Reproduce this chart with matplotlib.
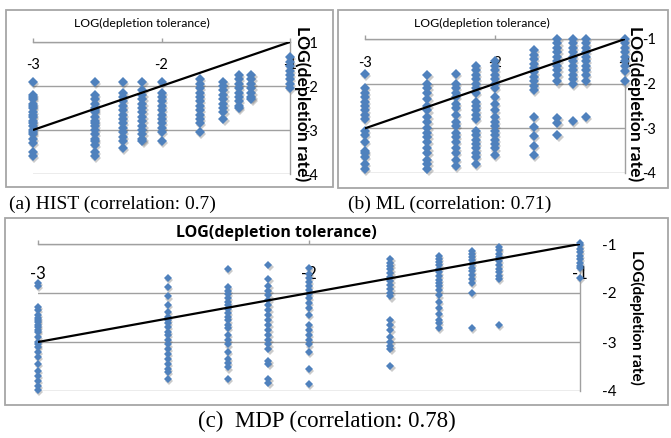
import matplotlib
matplotlib.use('Agg')
import matplotlib.pyplot as plt
import matplotlib.transforms as mtransforms
from matplotlib.patches import Rectangle
from matplotlib import font_manager

plt.rcParams['font.family'] = ['Lato', 'DejaVu Sans']

# log10 of depletion tolerance for each column of points
tol_log = [-3.0, -2.52, -2.3, -2.15, -2.0, -1.7, -1.52, -1.4, -1.3, -1.0]

# log10 of depletion rate, one list per column
hist_rates = [
    [-1.9, -2.2, -2.25, -2.3, -2.4, -2.45, -2.5, -2.6, -2.65, -2.7, -2.8, -2.85, -2.9, -3.0, -3.05, -3.1, -3.2, -3.3, -3.5, -3.6],
    [-1.9, -2.2, -2.3, -2.4, -2.5, -2.55, -2.6, -2.7, -2.8, -2.85, -2.9, -3.0, -3.1, -3.2, -3.25, -3.35, -3.5, -3.6],
    [-1.9, -2.15, -2.25, -2.35, -2.45, -2.55, -2.65, -2.75, -2.85, -2.95, -3.05, -3.15, -3.25, -3.4],
    [-1.9, -2.1, -2.2, -2.3, -2.4, -2.5, -2.6, -2.7, -2.8, -2.9, -3.0, -3.1, -3.2, -3.25],
    [-1.9, -2.15, -2.25, -2.35, -2.45, -2.55, -2.65, -2.75, -2.85, -2.95, -3.05, -3.25],
    [-1.85, -1.95, -2.05, -2.15, -2.25, -2.35, -2.45, -2.55, -2.65, -2.75, -2.85, -3.05],
    [-1.9, -2.0, -2.1, -2.2, -2.3, -2.4, -2.5, -2.6, -2.75],
    [-1.75, -1.85, -1.95, -2.05, -2.15, -2.25, -2.35, -2.45, -2.5],
    [-1.75, -1.85, -1.95, -2.05, -2.15, -2.25, -2.3],
    [-1.35, -1.45, -1.55, -1.65, -1.75, -1.85, -1.95, -2.05],
]
ml_rates = [
    [-1.78, -2.1, -2.2, -2.3, -2.4, -2.5, -2.6, -2.7, -2.8, -3.05, -3.15, -3.3, -3.5, -3.55, -3.65, -3.8, -3.9],
    [-1.8, -2.0, -2.1, -2.2, -2.35, -2.5, -2.6, -2.75, -2.85, -3.0, -3.1, -3.2, -3.3, -3.45, -3.55, -3.7, -3.8, -3.9],
    [-1.78, -2.0, -2.1, -2.2, -2.3, -2.45, -2.55, -2.7, -2.85, -2.95, -3.1, -3.2, -3.3, -3.45, -3.55, -3.7, -3.85],
    [-1.6, -1.7, -1.8, -1.9, -2.0, -2.1, -2.2, -2.4, -2.5, -2.6, -2.7, -2.8, -3.05, -3.15, -3.25, -3.35, -3.45, -3.55, -3.65, -3.8],
    [-1.5, -1.6, -1.7, -1.8, -1.9, -2.0, -2.1, -2.3, -2.45, -2.6, -2.75, -2.85, -2.95, -3.05, -3.15, -3.25, -3.35, -3.45, -3.6],
    [-1.25, -1.35, -1.45, -1.55, -1.65, -1.75, -1.85, -1.95, -2.05, -2.15, -2.75, -2.98, -3.18, -3.4, -3.59],
    [-1.0, -1.1, -1.2, -1.3, -1.4, -1.5, -1.6, -1.7, -1.8, -1.95, -2.77, -2.88, -3.14],
    [-1.0, -1.1, -1.2, -1.3, -1.4, -1.5, -1.6, -1.7, -1.8, -1.9, -2.0, -2.84],
    [-1.0, -1.1, -1.2, -1.3, -1.4, -1.5, -1.6, -1.7, -1.8, -1.95, -2.75],
    [-1.0, -1.1, -1.2, -1.3, -1.4, -1.5, -1.6, -1.72, -1.95],
]
mdp_rates = [
    [-1.8, -1.86, -2.28, -2.35, -2.45, -2.5, -2.55, -2.6, -2.65, -2.7, -2.75, -2.8, -2.9, -3.0, -3.05, -3.1, -3.2, -3.3, -3.45, -3.6, -3.7, -3.8, -3.9, -3.97],
    [-1.69, -1.88, -2.07, -2.24, -2.38, -2.48, -2.55, -2.62, -2.7, -2.79, -2.86, -2.95, -3.05, -3.15, -3.25, -3.35, -3.45, -3.55, -3.62, -3.76],
    [-1.5, -1.88, -1.95, -2.02, -2.1, -2.18, -2.25, -2.32, -2.4, -2.48, -2.56, -2.66, -2.72, -2.85, -2.95, -3.05, -3.2, -3.35, -3.42, -3.52, -3.76],
    [-1.43, -1.72, -1.86, -1.95, -2.05, -2.15, -2.25, -2.35, -2.45, -2.55, -2.65, -2.75, -2.85, -2.95, -3.05, -3.14, -3.38, -3.45, -3.76, -3.83],
    [-1.48, -1.62, -1.7, -1.78, -1.86, -1.94, -2.02, -2.1, -2.2, -2.3, -2.45, -2.65, -2.75, -2.85, -2.95, -3.05, -3.2, -3.55, -3.86],
    [-1.31, -1.38, -1.45, -1.52, -1.6, -1.68, -1.76, -1.84, -1.92, -2.0, -2.07, -2.55, -2.65, -2.76, -2.9, -3.0, -3.08, -3.14, -3.48],
    [-1.24, -1.3, -1.36, -1.42, -1.5, -1.58, -1.66, -1.74, -1.8, -1.86, -1.93, -2.05, -2.18, -2.3, -2.42, -2.55, -2.62, -2.72],
    [-1.14, -1.2, -1.26, -1.32, -1.4, -1.48, -1.56, -1.64, -1.72, -1.79, -2.0, -2.72],
    [-1.07, -1.13, -1.2, -1.27, -1.34, -1.42, -1.5, -1.58, -1.65, -1.72, -2.66],
    [-0.97, -1.03, -1.1, -1.17, -1.24, -1.31, -1.38, -1.45, -1.48, -1.69],
]

ref_line = [-3, -1]
x_ticks = [-3, -2, -1]
x_tick_labels = ['-3', '-2', '-1']
y_ticks = [-1, -2, -3, -4]
y_tick_labels = ['-1', '-2', '-3', '-4']
x_title = 'LOG(depletion tolerance)'
y_title = 'LOG(depletion rate)'
captions = ['(a) HIST (correlation: 0.7)', '(b) ML (correlation: 0.71)',
            '(c)  MDP (correlation: 0.78)']

BLUE = '#4f81bd'
GRID = '#a0a0a0'
FRAME = '#a6a6a6'

installed = {f.name for f in font_manager.fontManager.ttflist}
NARROW = 'Liberation Sans Narrow' if 'Liberation Sans Narrow' in installed else 'Lato'

W, H = 671, 438
fig = plt.figure(figsize=(W / 100, H / 100), dpi=100)


def px_rect(left, top, right, bottom):
    # pixel box (from top-left) -> figure fraction rect
    return [left / W, 1 - bottom / H, (right - left) / W, (bottom - top) / H]


def draw_panel(rect, rates, ms, xtick_fs, ytick_fs, xtick_pad, ytick_pad,
               xlab_xy, ylab_xy, xlab_font, ylab_fs):
    ax = fig.add_axes(rect)
    ax.set_xlim(-3, -1)
    ax.set_ylim(-4, -1)
    ax.patch.set_alpha(0)

    shadow = mtransforms.offset_copy(ax.transData, fig=fig, x=1.0, y=-1.5, units='points')
    for x, ys in zip(tol_log, rates):
        xs = [x] * len(ys)
        ax.plot(xs, ys, ls='none', marker='D', ms=ms, color='#303030', alpha=0.25,
                mew=0, transform=shadow, clip_on=False, zorder=2)
        ax.plot(xs, ys, ls='none', marker='D', ms=ms, color=BLUE, mew=0,
                clip_on=False, zorder=3)
    ax.plot(ref_line, ref_line, color='black', lw=1.6, zorder=4, solid_capstyle='butt')

    for side in ['left', 'bottom']:
        ax.spines[side].set_visible(False)
    for side in ['top', 'right']:
        ax.spines[side].set_color(GRID)
        ax.spines[side].set_linewidth(1.0)

    ax.set_yticks(y_ticks)
    ax.set_yticklabels(y_tick_labels)
    ax.yaxis.grid(True, color=GRID, lw=1.0)
    ax.set_axisbelow(True)
    ax.yaxis.tick_right()
    ax.tick_params(axis='y', length=0, pad=ytick_pad, labelsize=ytick_fs, labelcolor='black')

    ax.set_xticks(x_ticks)
    ax.set_xticklabels(x_tick_labels)
    ax.xaxis.tick_top()
    ax.tick_params(axis='x', direction='out', length=3, width=1.0, color=GRID,
                   pad=xtick_pad, labelsize=xtick_fs)
    plt.setp(ax.get_xticklabels(), va='center')

    ax.xaxis.set_label_position('top')
    ax.set_xlabel(x_title, va='center', ha='center', **xlab_font)
    ax.xaxis.set_label_coords(*xlab_xy)

    ax.yaxis.set_label_position('right')
    ax.set_ylabel(y_title, rotation=-90, va='center', ha='center',
                  fontsize=ylab_fs, fontweight='bold')
    ax.yaxis.set_label_coords(*ylab_xy)
    return ax


# outer chart frames
for box in [(6, 10, 333, 187), (338, 10, 668, 188), (5, 218, 668, 405)]:
    fig.add_artist(Rectangle((box[0] / W, 1 - box[3] / H), (box[2] - box[0]) / W,
                             (box[3] - box[1]) / H, transform=fig.transFigure,
                             fill=False, ec=FRAME, lw=1.3))

draw_panel(px_rect(33, 42, 290, 174), hist_rates, ms=4.6, xtick_fs=10.5, ytick_fs=10.5,
           xtick_pad=-19.5, ytick_pad=10, xlab_xy=(0.424, 1.144), ylab_xy=(1.047, 0.534),
           xlab_font=dict(fontsize=8.8, family=NARROW), ylab_fs=12.6)
draw_panel(px_rect(365, 39, 625, 173), ml_rates, ms=4.6, xtick_fs=10.5, ytick_fs=10.5,
           xtick_pad=-20.3, ytick_pad=12, xlab_xy=(0.45, 1.119), ylab_xy=(1.04, 0.52),
           xlab_font=dict(fontsize=8.8, family=NARROW), ylab_fs=12.6)
draw_panel(px_rect(38, 244, 580, 391), mdp_rates, ms=3.8, xtick_fs=12, ytick_fs=11,
           xtick_pad=-24.6, ytick_pad=16, xlab_xy=(0.44, 1.075), ylab_xy=(1.105, 0.5),
           xlab_font=dict(fontsize=11.5, fontweight='bold', family='Open Sans'), ylab_fs=11)

cap_font = dict(family='Liberation Serif', ha='center', va='center')
fig.text(112 / W, 1 - 204 / H, captions[0], fontsize=14, **cap_font)
fig.text(450 / W, 1 - 204 / H, captions[1], fontsize=14, **cap_font)
fig.text(327 / W, 1 - 421 / H, captions[2], fontsize=16.5, **cap_font)

fig.savefig('out.png', dpi=100)
